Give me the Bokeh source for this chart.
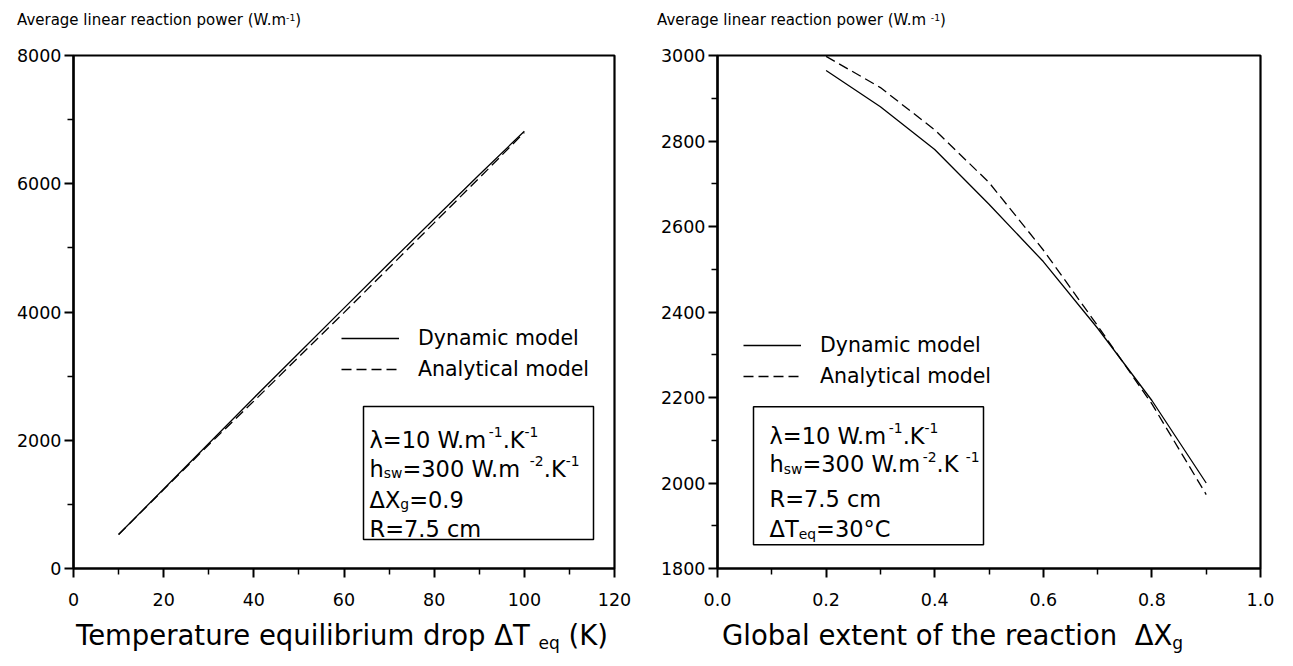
from bokeh.plotting import figure
from bokeh.layouts import row, column
from bokeh.models import (Range1d, FixedTicker, PrintfTickFormatter, Label,
                          BoxAnnotation, Legend, LegendItem, Div)
from bokeh.embed import file_html
from bokeh.resources import INLINE

# ---------------- data ----------------
dt_eq = [10, 20, 30, 40, 50, 60, 70, 80, 90, 100]
power_dyn_dt = [530, 1240, 1950, 2660, 3360, 4060, 4760, 5450, 6140, 6820]
power_ana_dt = [530, 1230, 1930, 2610, 3300, 3990, 4690, 5390, 6090, 6800]

dxg = [0.2, 0.3, 0.4, 0.5, 0.6, 0.7, 0.8, 0.9]
power_dyn_xg = [2965, 2880, 2780, 2652, 2518, 2362, 2193, 2000]
power_ana_xg = [2998, 2925, 2826, 2703, 2545, 2368, 2185, 1973]

left_xticks = [0, 20, 40, 60, 80, 100, 120]
left_xminor = [10, 30, 50, 70, 90, 110]
left_yticks = [0, 2000, 4000, 6000, 8000]
left_yminor = [1000, 3000, 5000, 7000]
right_xticks = [0.0, 0.2, 0.4, 0.6, 0.8, 1.0]
right_xminor = [0.1, 0.3, 0.5, 0.7, 0.9]
right_yticks = [1800, 2000, 2200, 2400, 2600, 2800, 3000]
right_yminor = [1900, 2100, 2300, 2500, 2700, 2900]

series_labels = ["Dynamic model", "Analytical model"]
FONT = "DejaVu Sans"

# DejaVu Sans advance widths (per 1000 em) for laying out multi-part texts
W = {' ': 318, '(': 390, ')': 390, '.': 318, '-': 361, '=': 838, '°': 500,
     'A': 684, 'C': 698, 'D': 770, 'G': 775, 'K': 656, 'R': 695, 'T': 611,
     'W': 989, 'X': 685, 'a': 613, 'b': 635, 'c': 550, 'd': 635, 'e': 615,
     'f': 352, 'g': 635, 'h': 634, 'i': 278, 'l': 278, 'm': 974, 'n': 634,
     'o': 612, 'p': 635, 'q': 635, 'r': 411, 's': 521, 't': 392, 'u': 634,
     'v': 592, 'w': 818, 'x': 592, 'y': 592, 'λ': 592, 'Δ': 684}
for d in "0123456789":
    W[d] = 636


def text_w(s, size):
    return sum(W.get(c, 600) for c in s) * size / 1000.0


def make_fig(width, height, borders, xr, yr, xt, xm, yt, ym, fmt=None):
    lb, rb, tb, bb = borders
    p = figure(width=width, height=height, output_backend="svg",
               toolbar_location=None, x_range=Range1d(*xr), y_range=Range1d(*yr),
               min_border_left=lb, min_border_right=rb,
               min_border_top=tb, min_border_bottom=bb)
    p.grid.visible = False
    p.outline_line_color = "black"
    p.outline_line_width = 2.2
    p.outline_line_alpha = 1
    p.background_fill_color = "white"
    p.border_fill_color = "white"
    p.xaxis.ticker = FixedTicker(ticks=xt, minor_ticks=xm)
    p.yaxis.ticker = FixedTicker(ticks=yt, minor_ticks=ym)
    if fmt:
        p.xaxis.formatter = PrintfTickFormatter(format=fmt)
    for ax in (p.xaxis, p.yaxis):
        ax.axis_line_width = 2.2
        ax.axis_line_color = "black"
        ax.major_tick_line_width = 2
        ax.minor_tick_line_width = 1.5
        ax.major_tick_line_color = "black"
        ax.minor_tick_line_color = "black"
        ax.major_tick_in = 0
        ax.major_tick_out = 9
        ax.minor_tick_in = 0
        ax.minor_tick_out = 6
        ax.major_label_text_font = FONT
        ax.major_label_text_font_size = "17.5px"
        ax.major_label_text_color = "black"
    p.xaxis.major_label_standoff = 15
    p.yaxis.major_label_standoff = 3
    return p


def mapper(xr, yr, frame):
    # frame given in page pixels (left, top, right, bottom)
    L, T, R, B = frame

    def fx(px):
        return xr[0] + (px - L) / (R - L) * (xr[1] - xr[0])

    def fy(py):
        return yr[0] + (B - py) / (B - T) * (yr[1] - yr[0])
    return fx, fy


def add_text(p, fx, fy, x_px, base_px, segs, size):
    off = 0.0
    for txt, kind in segs:
        s = size if kind == "n" else size * 0.62
        dy = 0 if kind == "n" else (size * 0.33 if kind == "sup" else -size * 0.22)
        p.add_layout(Label(x=fx(x_px), y=fy(base_px), x_offset=off, y_offset=dy,
                           text=txt, text_font=FONT, text_font_size=f"{s:.1f}px",
                           text_baseline="alphabetic", text_align="left",
                           text_color="black"))
        off += text_w(txt, s)


def add_lines(p, x, yd, ya, loc):
    r1 = p.line(x, yd, line_color="black", line_width=1.3)
    r2 = p.line(x, ya, line_color="black", line_width=1.3, line_dash="10 5")
    leg = Legend(items=[LegendItem(label=series_labels[0], renderers=[r1]),
                        LegendItem(label=series_labels[1], renderers=[r2])],
                 location=loc, border_line_color=None, background_fill_alpha=0,
                 padding=0, margin=0, glyph_width=58, glyph_height=22,
                 label_height=22, label_standoff=19, spacing=7,
                 label_text_font=FONT, label_text_font_size="20.5px",
                 label_text_color="black")
    p.add_layout(leg)


def make_div(html, width, height, size, pad_left, pad_top, line_h):
    inner = (f'<div style="padding-left:{pad_left}px;padding-top:{pad_top}px;'
             f'line-height:{line_h}px;white-space:nowrap">{html}</div>')
    return Div(text=inner, width=width, height=height, margin=(0, 0, 0, 0),
               styles={"font-family": FONT, "font-size": f"{size}px",
                       "color": "black"})


SUP = '<sup style="font-size:62%;vertical-align:0.45em;line-height:0">{}</sup>'
SUB = '<sub style="font-size:62%;vertical-align:-0.25em;line-height:0">{}</sub>'

header_left = "Average linear reaction power (W.m" + SUP.format("-1") + ")"
header_right = "Average linear reaction power (W.m " + SUP.format("-1") + ")"
xtitle_left = "Temperature equilibrium drop &Delta;T " + SUB.format("eq") + " (K)"
xtitle_right = "Global extent of the reaction &nbsp;&Delta;X" + SUB.format("g")

# page layout: headers row 0-44, figures 44-616, axis titles 616-656
# ---------------- left figure ----------------
L_XR, L_YR = (0, 120), (0, 8000)
L_FRAME = (73, 55, 614, 568)           # page pixels of the plot frame
p1 = make_fig(648, 572, (73, 34, 11, 48), L_XR, L_YR,
              left_xticks, left_xminor, left_yticks, left_yminor)
add_lines(p1, dt_eq, power_dyn_dt, power_ana_dt, (268, 187))
fx1, fy1 = mapper(L_XR, L_YR, L_FRAME)
p1.add_layout(BoxAnnotation(left=fx1(363), right=fx1(593), top=fy1(406),
                            bottom=fy1(539), fill_alpha=0, line_color="black",
                            line_alpha=1, line_width=1.5))
BS = 22.5
add_text(p1, fx1, fy1, 369, 439, [("λ=10 W.m", "n"), ("-1", "sup"), (".K", "n"), ("-1", "sup")], BS)
add_text(p1, fx1, fy1, 369, 468, [("h", "n"), ("sw", "sub"), (" =300 W.m", "n"),
                                  ("-2", "sup"), (".K", "n"), ("-1", "sup")], BS)
add_text(p1, fx1, fy1, 369, 499, [("ΔX", "n"), ("g", "sub"), ("=0.9", "n")], BS)
add_text(p1, fx1, fy1, 369, 528, [("R=7.5 cm", "n")], BS)

# ---------------- right figure ----------------
R_XR, R_YR = (0, 1.0), (1800, 3000)
R_FRAME = (717, 54, 1260, 571)
p2 = make_fig(630, 572, (69, 18, 10, 45), R_XR, R_YR,
              right_xticks, right_xminor, right_yticks, right_yminor, fmt="%.1f")
add_lines(p2, dxg, power_dyn_xg, power_ana_xg, (26, 180))
fx2, fy2 = mapper(R_XR, R_YR, R_FRAME)
p2.add_layout(BoxAnnotation(left=fx2(753), right=fx2(983), top=fy2(408),
                            bottom=fy2(547), fill_alpha=0, line_color="black",
                            line_alpha=1, line_width=1.5))
add_text(p2, fx2, fy2, 769, 437, [("λ=10 W.m", "n"), ("-1", "sup"), (".K", "n"), ("-1", "sup")], BS)
add_text(p2, fx2, fy2, 769, 466, [("h", "n"), ("sw", "sub"), ("=300 W.m", "n"),
                                  ("-2", "sup"), (" .K", "n"), ("-1", "sup")], BS)
add_text(p2, fx2, fy2, 769, 501, [("R=7.5 cm", "n")], BS)
add_text(p2, fx2, fy2, 769, 531, [("ΔT", "n"), ("eq", "sub"), (" =30°C", "n")], BS)

# ---------------- texts outside the frames ----------------
h1 = make_div(header_left, 648, 44, 15, 17, 8, 24)
h2 = make_div(header_right, 630, 44, 15, 9, 8, 24)
t1 = make_div(xtitle_left, 648, 40, 27.5, 76, 0, 34)
t2 = make_div(xtitle_right, 630, 40, 27.5, 74, 0, 34)

layout = column(row(h1, h2), row(p1, p2), row(t1, t2))
open("out.html", "w").write(file_html(layout, INLINE))
